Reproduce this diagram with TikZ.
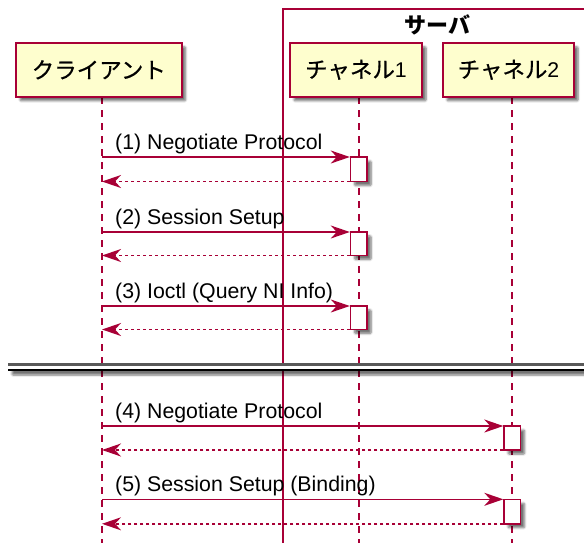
\documentclass[tikz,border=0pt]{standalone}
\usepackage{fontspec}
\setmainfont{Liberation Sans}
\newfontfamily\cjk{Noto Sans CJK JP}[FakeBold=0.6]
\newfontfamily\cjkb{Noto Sans CJK JP}
\usetikzlibrary{arrows.meta,shadows.blur}
\definecolor{pu}{HTML}{A80036}
\definecolor{pufill}{HTML}{FEFECE}
\begin{document}
\begin{tikzpicture}[x=1pt,y=-1pt,
  shd/.style={blur shadow={shadow xshift=4pt, shadow yshift=-4pt, shadow blur steps=6, shadow blur extra rounding=1pt, shadow opacity=55}},
  participant/.style={draw=pu, line width=2pt, fill=pufill, minimum height=54pt, inner sep=0pt, shd,
    font=\fontsize{21.3}{25}\selectfont},
  lifeline/.style={draw=pu, line width=1.3pt, dash pattern=on 7pt off 6pt},
  actbox/.style={draw=pu, line width=1.5pt, fill=white, minimum width=16.5pt, inner sep=0pt, shd},
  msg/.style={draw=pu, line width=1.4pt, -{Stealth[length=19pt, width=13pt, inset=6pt]}},
  ret/.style={draw=pu, line width=1.4pt, dash pattern=on 3pt off 3pt, -{Stealth[length=19pt, width=13pt, inset=6pt]}},
  lbl/.style={anchor=base west, inner sep=0pt, font=\fontsize{21.3}{25}\selectfont},
]
\useasboundingbox (0,0) rectangle (584,542);

% server frame
\draw[draw=pu, line width=1.3pt] (590,9) -- (283,9) -- (283,550);
\node[font=\cjkb\bfseries\fontsize{22}{26}\selectfont, inner sep=0pt] (title) at (437.5,24.5) {サーバ};

% lifelines
\coordinate (l1top) at (102,97);  \coordinate (l1bot) at (102,550);
\coordinate (l2top) at (359,97);  \coordinate (l2bot) at (359,550);
\coordinate (l3top) at (512,97);  \coordinate (l3bot) at (512,550);
\draw[lifeline] (l1top) -- (l1bot);
\draw[lifeline] (l2top) -- (l2bot);
\draw[lifeline] (l3top) -- (l3bot);

% participants
\node[participant, minimum width=165.5pt] (client) at (98.8,69.8) {\cjk\fontsize{22.5}{26}\selectfont クライアント};
\node[participant, minimum width=132pt] (ch1) at (356,69.8) {{\cjk\fontsize{22.5}{26}\selectfont チャネル}1};
\node[participant, minimum width=131pt] (ch2) at (508.5,69.8) {{\cjk\fontsize{22.5}{26}\selectfont チャネル}2};

% divider
\fill[white, shd] (8,363) rectangle (590,371);
\draw[black!65, line width=2.6pt] (8,364.6) -- (590,364.6);
\draw[black, line width=2pt] (8,369.5) -- (590,369.5);

% activation boxes
\node[actbox, minimum height=24.5pt] (a1) at (358.8,169.3) {};
\node[actbox, minimum height=23.5pt] (a2) at (358.8,243.7) {};
\node[actbox, minimum height=23.5pt] (a3) at (358.8,317.7) {};
\node[actbox, minimum height=24pt] (a4) at (512.3,438) {};
\node[actbox, minimum height=24.5pt] (a5) at (512.3,511.5) {};

% message endpoints on client lifeline
\coordinate (s1) at (102,157);   \coordinate (r1) at (102,181.5);
\coordinate (s2) at (102,232);   \coordinate (r2) at (102,255.5);
\coordinate (s3) at (102,306);   \coordinate (r3) at (102,329.5);
\coordinate (s4) at (102,426);   \coordinate (r4) at (102,450);
\coordinate (s5) at (102,499.3); \coordinate (r5) at (102,523.8);

\draw[msg] (s1) -- (s1 -| a1.west);
\draw[ret] (r1 -| a1.west) -- (r1);
\draw[msg] (s2) -- (s2 -| a2.west);
\draw[ret] (r2 -| a2.west) -- (r2);
\draw[msg] (s3) -- (s3 -| a3.west);
\draw[ret] (r3 -| a3.west) -- (r3);
\draw[msg] (s4) -- (s4 -| a4.west);
\draw[ret] (r4 -| a4.west) -- (r4);
\draw[msg] (s5) -- (s5 -| a5.west);
\draw[ret] (r5 -| a5.west) -- (r5);

% labels
\node[lbl] (t1) at (115,149.3) {(1) Negotiate Protocol};
\node[lbl] (t2) at (115,224.3) {(2) Session Setup};
\node[lbl] (t3) at (115,298.3) {(3) Ioctl (Query NI Info)};
\node[lbl] (t4) at (115,418.3) {(4) Negotiate Protocol};
\node[lbl] (t5) at (115,491.6) {(5) Session Setup (Binding)};
\end{tikzpicture}
\end{document}
